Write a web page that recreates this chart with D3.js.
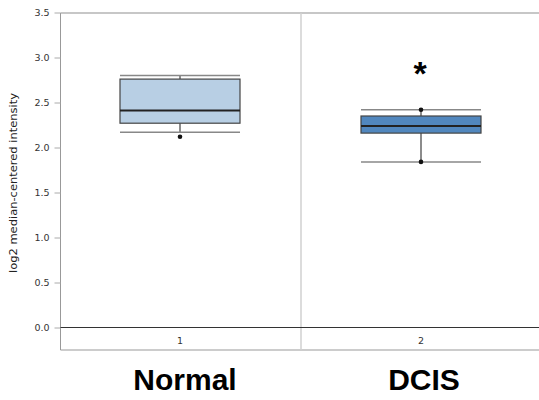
<!DOCTYPE html>
<html><head><meta charset="utf-8">
<script src="https://cdn.jsdelivr.net/npm/d3@7"></script>
<style>body{margin:0;background:#fff}svg{display:block}</style>
</head><body>
<svg id="c" width="539" height="400"></svg>
<script>
const categories = ["1", "2"];
const groupNames = ["Normal", "DCIS"];
const whiskerHigh = [2.80, 2.42];
const q3 = [2.76, 2.35];
const medians = [2.41, 2.24];
const q1 = [2.27, 2.16];
const whiskerLow = [2.17, 1.84];
const outliers = [[2.12], [2.42, 1.84]];
const fills = ["#b8cfe4", "#5187be"];
const yTicks = [0, 0.5, 1.0, 1.5, 2.0, 2.5, 3.0, 3.5];

const svg = d3.select("#c");
const L = 60.5, R = 545, T = 13, B = 350;
const y = d3.scaleLinear().domain([0, 3.5]).range([327.5, 12.5]);
const bw = 120;
const centers = [180, 421];

// frame
svg.append("line").attr("x1", L).attr("x2", R).attr("y1", 13).attr("y2", 13).attr("stroke", "#b5b5b5").attr("stroke-width", 1.5);
svg.append("line").attr("x1", L).attr("x2", R).attr("y1", B).attr("y2", B).attr("stroke", "#999").attr("stroke-width", 1);
svg.append("line").attr("x1", 301).attr("x2", 301).attr("y1", 13).attr("y2", B).attr("stroke", "#d0d0d0").attr("stroke-width", 1.5);

// y axis
const ya = svg.append("g").attr("transform", `translate(${L},0)`)
  .call(d3.axisLeft(y).tickValues(yTicks).tickFormat(d3.format(".1f")).tickSize(6).tickPadding(5));
ya.select(".domain").attr("stroke", "#999").attr("d", `M0,${T}V${B}`);
ya.selectAll(".tick line").attr("stroke", "#aaa");
ya.selectAll(".tick text").attr("font-family", "DejaVu Sans, sans-serif").attr("font-size", 9.5).attr("fill", "#333");

// zero line
svg.append("line").attr("x1", L).attr("x2", R).attr("y1", y(0)).attr("y2", y(0)).attr("stroke", "#333").attr("stroke-width", 1);

// y label
svg.append("text").attr("transform", `translate(17,183) rotate(-90)`)
  .attr("text-anchor", "middle").attr("font-family", "DejaVu Sans, sans-serif").attr("font-size", 10.5).attr("fill", "#222")
  .attr("textLength", 180).attr("lengthAdjust", "spacingAndGlyphs")
  .text("log2 median-centered intensity");

// category labels
categories.forEach((c, i) => {
  svg.append("text").attr("x", centers[i]).attr("y", 344).attr("text-anchor", "middle")
    .attr("font-family", "DejaVu Sans, sans-serif").attr("font-size", 9.5).attr("fill", "#333").text(c);
  svg.append("text").attr("x", i === 0 ? 185 : 424).attr("y", 390).attr("text-anchor", "middle")
    .attr("font-family", "Liberation Sans, Arial, sans-serif").attr("font-weight", "bold").attr("font-size", 30).attr("fill", "#000")
    .text(groupNames[i]);
});

// boxes
categories.forEach((c, i) => {
  const cx = centers[i];
  const g = svg.append("g");
  g.append("line").attr("x1", cx).attr("x2", cx).attr("y1", y(whiskerHigh[i])).attr("y2", y(q3[i])).attr("stroke", "#666").attr("stroke-width", 1.5);
  g.append("line").attr("x1", cx).attr("x2", cx).attr("y1", y(q1[i])).attr("y2", y(whiskerLow[i])).attr("stroke", "#666").attr("stroke-width", 1.5);
  g.append("line").attr("x1", cx - bw / 2).attr("x2", cx + bw / 2).attr("y1", y(whiskerHigh[i])).attr("y2", y(whiskerHigh[i])).attr("stroke", "#888").attr("stroke-width", 1.5);
  g.append("line").attr("x1", cx - bw / 2).attr("x2", cx + bw / 2).attr("y1", y(whiskerLow[i])).attr("y2", y(whiskerLow[i])).attr("stroke", "#888").attr("stroke-width", 1.5);
  g.append("rect").attr("x", cx - bw / 2).attr("width", bw).attr("y", y(q3[i])).attr("height", y(q1[i]) - y(q3[i]))
    .attr("fill", fills[i]).attr("stroke", "#444").attr("stroke-width", 1.2);
  g.append("line").attr("x1", cx - bw / 2).attr("x2", cx + bw / 2).attr("y1", y(medians[i])).attr("y2", y(medians[i])).attr("stroke", "#222").attr("stroke-width", 2);
  outliers[i].forEach(v => g.append("circle").attr("cx", cx).attr("cy", y(v)).attr("r", 2.3).attr("fill", "#111"));
});

// significance asterisk
svg.append("text").attr("x", 420).attr("y", 85).attr("text-anchor", "middle")
  .attr("font-family", "Liberation Sans, Arial, sans-serif").attr("font-weight", "bold").attr("font-size", 34).attr("fill", "#000").text("*");
</script>
</body></html>
